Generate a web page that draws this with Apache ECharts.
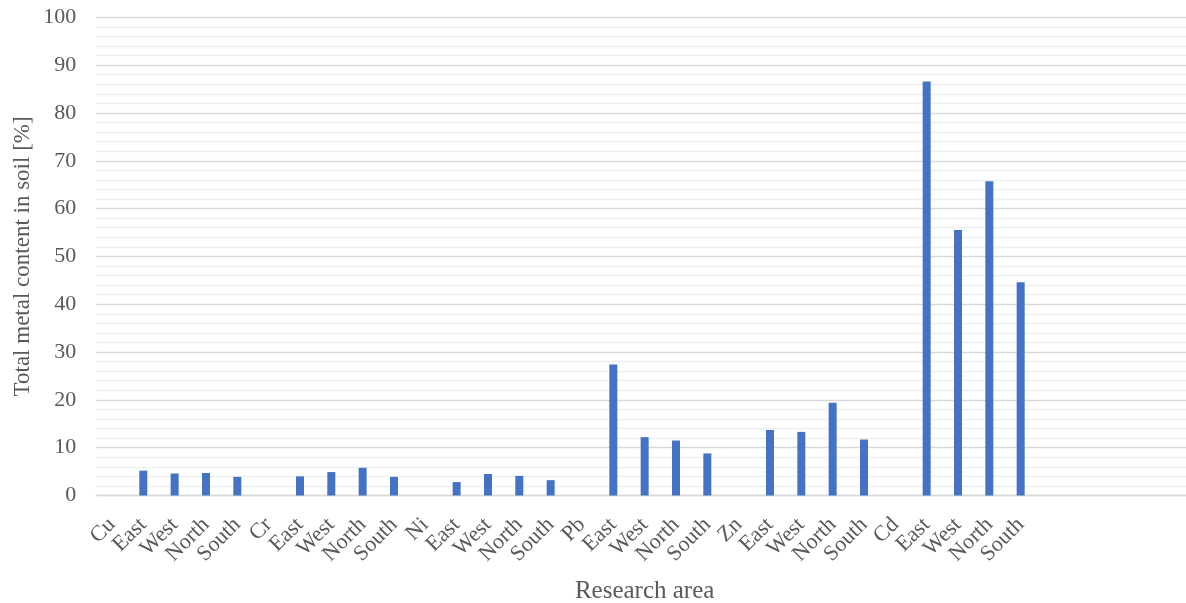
<!DOCTYPE html>
<html>
<head>
<meta charset="utf-8">
<script src="https://cdn.jsdelivr.net/npm/echarts@6/dist/echarts.min.js"></script>
<style>html,body{margin:0;padding:0;background:#fff;overflow:hidden;width:1186px;height:603px;}#chart{width:1193px;height:603px;}</style>
</head>
<body>
<div id="chart"></div>
<script>
const categories = ['Cu','East','West','North','South','Cr','East','West','North','South','Ni','East','West','North','South','Pb','East','West','North','South','Zn','East','West','North','South','Cd','East','West','North','South','','','','',''];
const values = [null,5.2,4.6,4.7,3.9, null,4.0,4.9,5.8,3.9, null,2.8,4.5,4.1,3.2, null,27.4,12.2,11.5,8.8, null,13.7,13.3,19.4,11.7, null,86.6,55.5,65.7,44.6, null,null,null,null,null];
const yTicks = [0,10,20,30,40,50,60,70,80,90,100];
const xTitle = 'Research area';
const yTitle = 'Total metal content in soil [%]';

const font = '"Liberation Serif", "DejaVu Serif", serif';
const chart = echarts.init(document.getElementById('chart'));
chart.setOption({
  animation: false,
  grid: {left: 96.3, top: 17.3, bottom: 107.5, right: 0, containLabel: false, outerBoundsMode: 'none'},
  xAxis: {
    type: 'category',
    data: categories,
    name: xTitle,
    nameLocation: 'middle',
    nameGap: 83,
    nameTextStyle: {fontFamily: font, fontSize: 25, color: '#595959'},
    axisLine: {show: true, lineStyle: {color: '#d9d9d9', width: 1.3}},
    axisTick: {show: false},
    axisLabel: {interval: 0, rotate: 45, fontFamily: font, fontSize: 22, color: '#595959', margin: 26}
  },
  yAxis: {
    type: 'value',
    min: yTicks[0],
    max: yTicks[yTicks.length - 1],
    interval: 10,
    name: yTitle,
    nameLocation: 'middle',
    nameGap: 62,
    nameMoveOverlap: false,
    nameTextStyle: {fontFamily: font, fontSize: 23, color: '#595959'},
    axisLine: {show: false},
    axisTick: {show: false},
    axisLabel: {fontFamily: font, fontSize: 22, color: '#595959', margin: 20},
    splitLine: {lineStyle: {color: '#d9d9d9', width: 1.3}},
    minorTick: {show: false, splitNumber: 5},
    minorSplitLine: {show: true, lineStyle: {color: '#f0f0f0', width: 1.3}}
  },
  series: [{
    type: 'bar',
    data: values,
    barWidth: 8,
    itemStyle: {color: '#4472C4'}
  }]
});
</script>
</body>
</html>
